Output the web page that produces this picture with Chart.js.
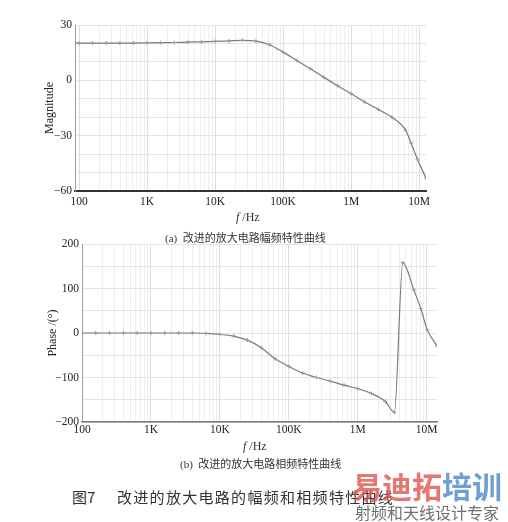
<!DOCTYPE html>
<html>
<head>
<meta charset="utf-8">
<script src="https://cdn.jsdelivr.net/npm/chart.js@4.4.0/dist/chart.umd.min.js"></script>
<style>
  body { margin: 0; background: #fff; width: 508px; height: 522px; position: relative; overflow: hidden; color: #333; font-family: "Liberation Serif", serif; }
  canvas { position: absolute; left: 0; }
  .txt { position: absolute; white-space: nowrap; }
  .cap { font-family: "Liberation Serif", "Noto Sans CJK SC", serif; font-size: 11px; color: #333; }
  .cjk { font-family: "Noto Sans CJK SC", sans-serif; }
</style>
</head>
<body>
<canvas id="magnitudChart" width="508" height="212" style="top:0"></canvas>
<canvas id="faseChart" width="508" height="210" style="top:230px"></canvas>

<div class="txt" style="left:236px;top:210px;font-size:12px"><i>f</i> /Hz</div>
<div class="txt cap" style="left:165px;top:229px">(a)&nbsp; <span class="cjk">改进的放大电路幅频特性曲线</span></div>
<div class="txt" style="left:243px;top:439px;font-size:12px"><i>f</i> /Hz</div>
<div class="txt cap" style="left:180px;top:455px">(b)&nbsp; <span class="cjk">改进的放大电路相频特性曲线</span></div>

<div class="txt cjk" style="left:72px;top:486px;font-size:15px;color:#333">图7</div>
<div class="txt cjk" style="left:117px;top:486px;font-size:15px;letter-spacing:1.3px;color:#333">改进的放大电路的幅频和相频特性曲线</div>

<div class="txt cjk" style="left:352px;top:463px;font-size:30px;font-weight:bold;opacity:0.8"><span style="color:#e0554d">易迪拓</span><span style="color:#4c86c6">培训</span></div>
<div class="txt cjk" style="left:355px;top:500px;font-size:16px;color:#707070">射频和天线设计专家</div>

<script>
// Datos del eje de frecuencia
const ticksFrecuencia = [100, 1e3, 1e4, 1e5, 1e6, 1e7];
const etiquetasFrecuencia = ['100', '1K', '10K', '100K', '1M', '10M'];

// (a) Magnitud
const frecMagnitud = [87, 100, 158, 251, 398, 631, 1000, 1585, 2512, 3981, 6310, 10000, 15849, 25119, 39811, 63096, 100000, 158489, 251189, 398107, 630957, 1000000, 1584893, 2511886, 3981072, 6309573, 7600000, 9400000, 12600000];
const magnitud = [20.2, 20.2, 20.2, 20.2, 20.2, 20.2, 20.3, 20.4, 20.5, 20.7, 20.9, 21.1, 21.4, 21.7, 21.3, 19.3, 15.3, 10.8, 6.3, 1.6, -2.9, -7.3, -11.8, -15.8, -20, -27, -34, -42.7, -53];

// (b) Fase
const frecFase = [100, 158, 251, 398, 631, 1000, 1585, 2512, 3981, 6310, 10000, 15849, 25119, 39811, 63096, 100000, 158489, 251189, 398107, 630957, 1000000, 1584893, 2511886, 3400000, 4500000, 6500000, 8200000, 10200000, 14100000];
const fase = [0, 0, 0, 0, 0, 0, 0, 0, 0, -1, -3, -7, -16, -33, -58, -75, -90, -100, -108, -117, -125, -136, -154, -178, 158, 97, 55, 7, -29];

// Lineas de la grilla: 1..9 por decada
const lineasFrecuencia = [];
ticksFrecuencia.forEach(d => {
  for (let m = 1; m <= 9; m++) lineasFrecuencia.push(d * m);
});

const menos = (v) => (v < 0 ? '\u2212' + Math.abs(v) : String(v));

Chart.defaults.font.family = '"Liberation Serif", serif';
Chart.defaults.color = '#222';

function ejeFrecuencia(min, max, alto, padding, borde) {
  return {
    type: 'logarithmic',
    min: min,
    max: max,
    afterBuildTicks: (eje) => {
      eje.ticks = lineasFrecuencia.filter(v => v >= min && v <= max).map(v => ({ value: v }));
    },
    afterFit: (eje) => { eje.height = alto; },
    ticks: {
      autoSkip: false,
      maxRotation: 0,
      padding: padding,
      font: { size: 11.5 },
      color: '#222',
      callback: (v) => {
        const i = ticksFrecuencia.indexOf(v);
        return i >= 0 ? etiquetasFrecuencia[i] : '';
      },
    },
    grid: {
      color: (c) => (c.tick && ticksFrecuencia.includes(c.tick.value) ? '#dedede' : '#eeeeee'),
      lineWidth: 1,
      drawTicks: false,
    },
    border: borde,
  };
}

function ejeValor(min, max, paso, cadaEtiqueta, ancho, titulo, tituloPad) {
  return {
    min: min,
    max: max,
    afterFit: (eje) => { eje.width = ancho; },
    ticks: {
      stepSize: paso,
      padding: 3,
      font: { size: 11.5 },
      color: '#222',
      callback: (v) => (v % cadaEtiqueta === 0 ? menos(v) : ''),
    },
    grid: { color: '#e4e4e4', lineWidth: 1, drawTicks: false },
    border: { color: '#a0a0a0', width: 1 },
    title: { display: true, text: titulo, font: { size: 12 }, color: '#222', padding: { top: tituloPad, bottom: 0 } },
  };
}

function dataset(frecuencias, valores) {
  return {
    data: frecuencias.map((f, i) => ({ x: f, y: valores[i] })),
    borderColor: '#7a7a7a',
    borderWidth: 1.2,
    pointStyle: 'cross',
    pointRadius: 2,
    pointBorderColor: '#9a9a9a',
    pointBorderWidth: 1,
    cubicInterpolationMode: 'monotone',
    fill: false,
  };
}

const opcionesBase = {
  responsive: false,
  animation: false,
  devicePixelRatio: 1,
  plugins: { legend: { display: false }, tooltip: { enabled: false } },
};

new Chart(document.getElementById('magnitudChart').getContext('2d'), {
  type: 'line',
  data: { datasets: [dataset(frecMagnitud, magnitud)] },
  options: {
    ...opcionesBase,
    layout: { padding: { top: 25, right: 82, bottom: 0, left: 0 } },
    scales: {
      x: ejeFrecuencia(87, 12600000, 21, 4, { color: '#333', width: 2 }),
      y: ejeValor(-60, 30, 10, 30, 75, 'Magnitude', 43),
    },
  },
});

new Chart(document.getElementById('faseChart').getContext('2d'), {
  type: 'line',
  data: { datasets: [dataset(frecFase, fase)] },
  options: {
    ...opcionesBase,
    layout: { padding: { top: 14, right: 71, bottom: 0, left: 0 } },
    scales: {
      x: ejeFrecuencia(100, 14100000, 18, 1, { color: '#777', width: 1.5 }),
      y: ejeValor(-200, 200, 50, 100, 82, 'Phase /(\u00b0)', 46),
    },
  },
});
</script>
</body>
</html>
